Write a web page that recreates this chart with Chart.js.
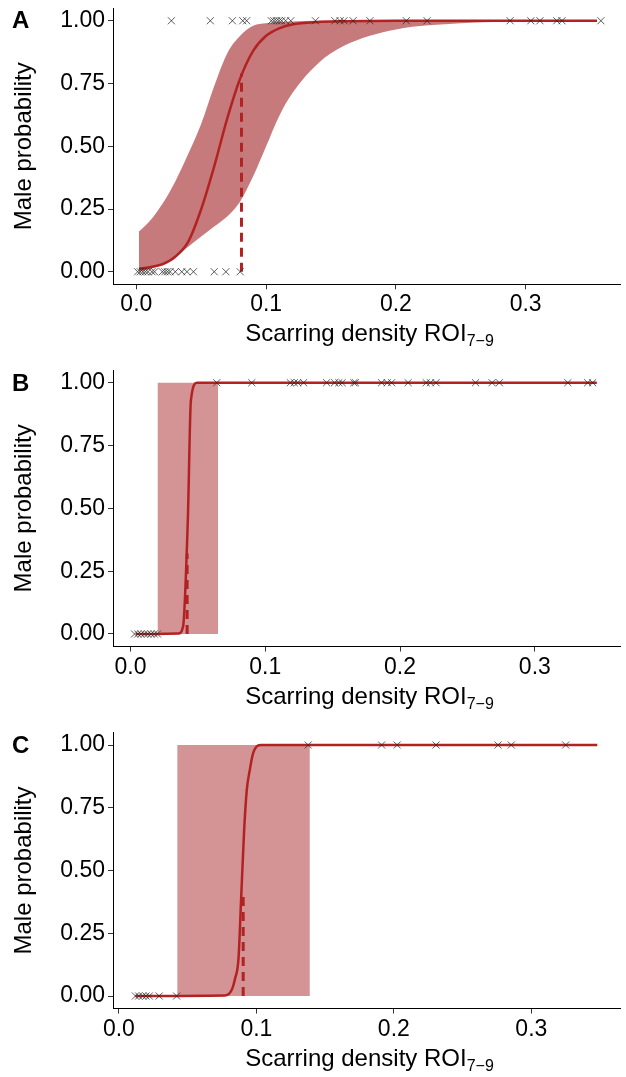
<!DOCTYPE html>
<html>
<head>
<meta charset="utf-8">
<script src="https://cdn.jsdelivr.net/npm/chart.js@4.4.1/dist/chart.umd.min.js"></script>
<style>
body { margin: 0; background: #fff; width: 626px; height: 1077px; position: relative; overflow: hidden; font-family: "Liberation Sans", Arial, sans-serif; }
canvas { position: absolute; left: 0; }
.xt { position: absolute; left: 113px; width: 513px; text-align: center; font-size: 24px; line-height: 28px; color: #000; }
.xt sub { font-size: 16px; vertical-align: -5px; line-height: 0; }
.tag { position: absolute; left: 12px; font-weight: bold; font-size: 24px; line-height: 28px; color: #000; }
</style>
</head>
<body>
<canvas id="chartA" width="626" height="360" style="top:0px"></canvas>
<canvas id="chartB" width="626" height="360" style="top:360px"></canvas>
<canvas id="chartC" width="626" height="357" style="top:720px"></canvas>
<div class="tag" style="top:6px">A</div>
<div class="tag" style="top:369px">B</div>
<div class="tag" style="top:731px">C</div>
<div class="xt" style="top:319px">Scarring density ROI<sub>7&minus;9</sub></div>
<div class="xt" style="top:682px">Scarring density ROI<sub>7&minus;9</sub></div>
<div class="xt" style="top:1044px">Scarring density ROI<sub>7&minus;9</sub></div>
<script>
const RED = '#B22222';
const yTicks = [0, 0.25, 0.5, 0.75, 1];
const xTicks = [0, 0.1, 0.2, 0.3];

// Panel A: fitted curve and confidence band
const fitXA = [0.002, 0.01, 0.02, 0.03, 0.04, 0.05, 0.06, 0.07, 0.08, 0.09, 0.10, 0.11, 0.12, 0.14, 0.16, 0.20, 0.25, 0.30, 0.355];
const fitYA = [0.012, 0.018, 0.03, 0.06, 0.12, 0.25, 0.42, 0.61, 0.77, 0.88, 0.94, 0.97, 0.985, 0.995, 0.998, 1, 1, 1, 1];
const lowA  = [0.0, 0.01, 0.03, 0.06, 0.10, 0.14, 0.18, 0.22, 0.28, 0.38, 0.50, 0.62, 0.71, 0.83, 0.90, 0.965, 0.99, 0.997, 1];
const upA   = [0.16, 0.20, 0.27, 0.36, 0.47, 0.59, 0.74, 0.87, 0.94, 0.98, 0.99, 0.995, 0.997, 1, 1, 1, 1, 1, 1];
const maleA = [0.027, 0.057, 0.074, 0.082, 0.085, 0.104, 0.106, 0.108, 0.110, 0.112, 0.115, 0.119, 0.138, 0.153, 0.157, 0.160, 0.167, 0.180, 0.208, 0.224, 0.288, 0.304, 0.311, 0.324, 0.328, 0.358];
const femaleA = [0.001, 0.003, 0.005, 0.007, 0.009, 0.012, 0.014, 0.020, 0.022, 0.024, 0.026, 0.030, 0.035, 0.039, 0.044, 0.060, 0.069, 0.080];
const cutA = [0.081, 0.79];

// Panel B
const fitXB = [0.004, 0.0355, 0.039, 0.0425, 0.0448, 0.0494, 0.346];
const fitYB = [0, 0.002, 0.03, 0.45, 0.93, 1, 1];
const bandXB = [0.020, 0.065];
const lowB = [0, 0];
const upB = [1, 1];
const maleB = [0.064, 0.090, 0.1186, 0.1215, 0.124, 0.1284, 0.1455, 0.1514, 0.1546, 0.157, 0.1657, 0.1669, 0.1863, 0.1905, 0.1937, 0.206, 0.2194, 0.2225, 0.2267, 0.256, 0.2683, 0.2737, 0.3245, 0.3392, 0.3429];
const femaleB = [0.003, 0.0054, 0.0078, 0.0103, 0.0127, 0.0152, 0.0176, 0.020];
const cutB = [0.042, 0.32];

// Panel C
const fitXC = [0.012, 0.077, 0.082, 0.0845, 0.087, 0.089, 0.091, 0.093, 0.0952, 0.0976, 0.1036, 0.348];
const fitYC = [0, 0.002, 0.024, 0.07, 0.15, 0.40, 0.65, 0.82, 0.90, 0.967, 1, 1];
const bandXC = [0.0424, 0.1389];
const lowC = [0, 0];
const upC = [1, 1];
const maleC = [0.1377, 0.1911, 0.2024, 0.2307, 0.2758, 0.2854, 0.325];
const femaleC = [0.012, 0.0144, 0.0173, 0.0197, 0.0221, 0.0293, 0.042];
const cutC = [0.0904, 0.41];

const pts = (xs, ys) => xs.map((x, i) => ({ x: x, y: Array.isArray(ys) ? ys[i] : ys }));

function makePanel(id, p) {
    const ctx = document.getElementById(id).getContext('2d');
    const H = ctx.canvas.height;
    const crossStyle = {
        type: 'scatter', pointStyle: 'crossRot', pointRadius: 5, pointHoverRadius: 5,
        borderColor: 'rgba(40,40,40,0.75)', backgroundColor: 'rgba(40,40,40,0.75)',
        pointBorderWidth: 1, borderWidth: 1, showLine: false, order: 0
    };
    return new Chart(ctx, {
        type: 'line',
        data: {
            datasets: [
                Object.assign({ data: pts(p.male, 1) }, crossStyle),
                Object.assign({ data: pts(p.female, 0) }, crossStyle),
                { data: [{ x: p.cut[0], y: 0 }, { x: p.cut[0], y: p.cut[1] }], borderColor: RED, borderWidth: 3, borderDash: [9, 6], pointRadius: 0, order: 1 },
                { data: pts(p.fitX, p.fitY), borderColor: RED, borderWidth: 2.5, pointRadius: 0, tension: 0.3, cubicInterpolationMode: 'monotone', order: 2 },
                { data: pts(p.bandX, p.up), borderWidth: 0, pointRadius: 0, backgroundColor: p.band, fill: '+1', tension: 0.3, cubicInterpolationMode: 'monotone', order: 3 },
                { data: pts(p.bandX, p.low), borderWidth: 0, pointRadius: 0, fill: false, tension: 0.3, cubicInterpolationMode: 'monotone', order: 4 }
            ]
        },
        options: {
            responsive: false,
            animation: false,
            devicePixelRatio: 1,
            layout: { padding: { top: p.top, right: 0, left: 0, bottom: 0 } },
            plugins: { legend: { display: false }, tooltip: { enabled: false } },
            scales: {
                x: {
                    type: 'linear', min: p.xmin, max: p.xmax,
                    border: { display: true, color: '#000', width: 1 },
                    grid: { display: true, drawOnChartArea: false, drawTicks: true, tickLength: 5, color: '#333' },
                    ticks: { color: '#000', font: { family: 'Liberation Sans', size: 23 }, padding: 2, maxRotation: 0, callback: v => v.toFixed(1) },
                    afterBuildTicks: s => { s.ticks = xTicks.map(v => ({ value: v })); },
                    afterFit: s => { s.height = H - p.bottom; s.paddingLeft = 0; s.paddingRight = 0; }
                },
                y: {
                    type: 'linear', min: -0.05, max: 1.05,
                    border: { display: true, color: '#000', width: 1 },
                    grid: { display: true, drawOnChartArea: false, drawTicks: true, tickLength: 5, color: '#333' },
                    ticks: { color: '#000', font: { family: 'Liberation Sans', size: 23 }, padding: 3, callback: v => v.toFixed(2) },
                    title: { display: true, text: 'Male probability', color: '#000', font: { family: 'Liberation Sans', size: 24 }, padding: { top: 10, bottom: 0 } },
                    afterBuildTicks: s => { s.ticks = yTicks.map(v => ({ value: v })); },
                    afterFit: s => { s.width = 113; s.paddingTop = 0; s.paddingBottom = 0; }
                }
            }
        }
    });
}

makePanel('chartA', {
    fitX: fitXA, fitY: fitYA, bandX: fitXA, low: lowA, up: upA, male: maleA, female: femaleA, cut: cutA,
    band: '#C77A7C', xmin: -0.018, xmax: 0.3727, top: 8.2, bottom: 284.3
});
makePanel('chartB', {
    fitX: fitXB, fitY: fitYB, bandX: bandXB, low: lowB, up: upB, male: maleB, female: femaleB, cut: cutB,
    band: '#D49395', xmin: -0.013, xmax: 0.3632, top: 10.15, bottom: 286.55
});
makePanel('chartC', {
    fitX: fitXC, fitY: fitYC, bandX: bandXC, low: lowC, up: upC, male: maleC, female: femaleC, cut: cutC,
    band: '#D49395', xmin: -0.0043, xmax: 0.3645, top: 12.45, bottom: 288.55
});
</script>
</body>
</html>
